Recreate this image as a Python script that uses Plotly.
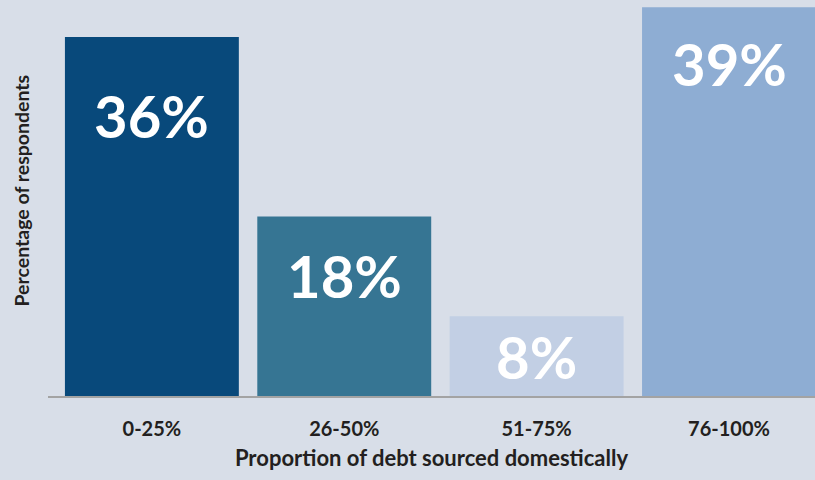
import plotly.graph_objects as go

categories = ["0-25%", "26-50%", "51-75%", "76-100%"]
values = [36, 18, 8, 39]
bar_colors = ["#08497b", "#367593", "#c2cfe4", "#8eadd3"]
# vertical offset (px) of each value label below its bar top
label_offsets = [78, 59, 40, 56]

FONT = "Lato"
BG = "#d8dee8"

fig = go.Figure(
    go.Bar(
        x=categories,
        y=values,
        marker=dict(color=bar_colors, line=dict(width=0)),
        hoverinfo="skip",
    )
)

for cat, val, off in zip(categories, values, label_offsets):
    fig.add_annotation(
        x=cat, y=val, text=f"<b>{val}%</b>", showarrow=False,
        yanchor="middle", xanchor="center", yshift=-off,
        font=dict(family=FONT, size=58, color="white"),
    )

fig.update_layout(
    width=815, height=480,
    margin=dict(l=48, r=0, t=0, b=84),
    paper_bgcolor=BG, plot_bgcolor=BG,
    bargap=0.096,
    showlegend=False,
    font=dict(family=FONT, color="#231f20"),
)
fig.update_xaxes(
    range=[-0.54, 3.447],
    showline=True, linecolor="#a3a3a3", linewidth=2,
    ticks="", showgrid=False, zeroline=False,
    tickfont=dict(family=FONT, size=20, color="#231f20"),
    ticklabelstandoff=14,
    tickvals=categories,
    ticktext=[f"<b>{c}</b>" for c in categories],
    title=dict(text="<b>Proportion of debt sourced domestically</b>",
               font=dict(family=FONT, size=22, color="#231f20"), standoff=12),
)
fig.update_yaxes(
    range=[0, 39.72], visible=True, showticklabels=False,
    showgrid=False, zeroline=False, showline=False, ticks="",
)
fig.add_annotation(
    xref="paper", yref="paper", x=-48 / 767, y=(396 - 191) / 396,
    xanchor="left", yanchor="middle", xshift=7,
    text="<b>Percentage of respondents</b>", textangle=-90, showarrow=False,
    font=dict(family=FONT, size=19.5, color="#231f20"),
)

fig.write_html("out.html")
